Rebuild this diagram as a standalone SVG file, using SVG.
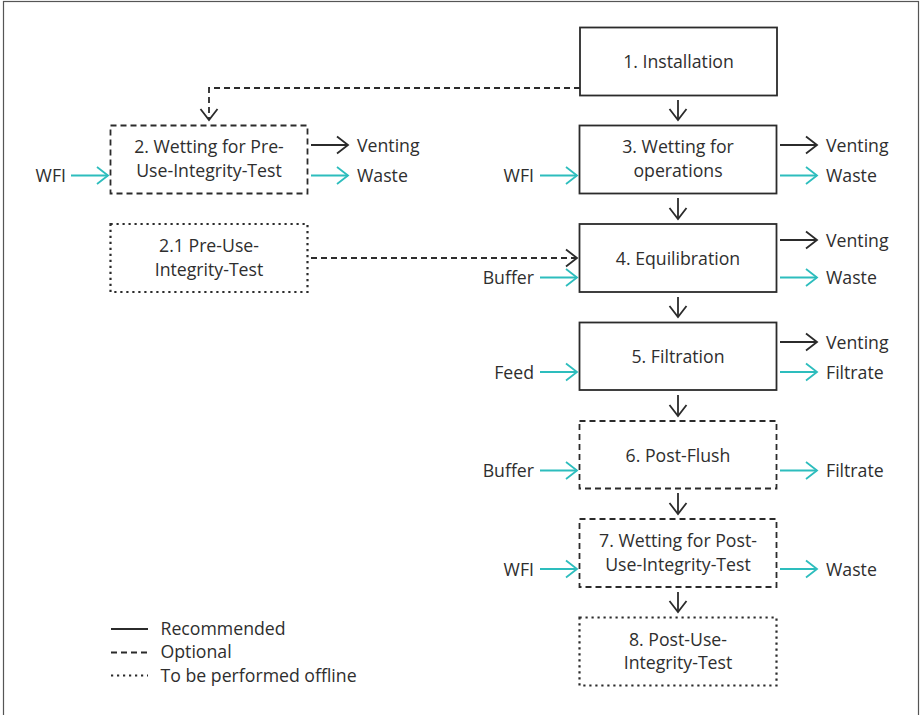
<svg xmlns="http://www.w3.org/2000/svg" width="921" height="715" viewBox="0 0 921 715">
<style>
text{font-family:"Open Sans","Liberation Sans",sans-serif;font-size:17.7px;fill:#2e2e2e}
.c{text-anchor:middle}
.box{fill:#fff;stroke:#2b2b2b;stroke-width:1.8}
.dash{stroke-dasharray:6 4}
.dot{stroke-dasharray:2.2 3.8;stroke-width:2.2}
.k{fill:none;stroke:#2b2b2b;stroke-width:1.8}
.t{fill:none;stroke:#2dbdbd;stroke-width:1.8}
</style>
<defs>
<marker id="ak" viewBox="-14 -11 16 22" markerWidth="16" markerHeight="22" refX="0" refY="0" orient="auto" markerUnits="userSpaceOnUse"><path d="M-11,-8.5 L0,0 L-11,8.5" fill="none" stroke="#2b2b2b" stroke-width="1.8"/></marker>
<marker id="at" viewBox="-14 -11 16 22" markerWidth="16" markerHeight="22" refX="0" refY="0" orient="auto" markerUnits="userSpaceOnUse"><path d="M-11,-8.5 L0,0 L-11,8.5" fill="none" stroke="#2dbdbd" stroke-width="1.8"/></marker>
</defs>
<rect x="3.5" y="1.5" width="915" height="730" fill="#fff" stroke="#555" stroke-width="1.2"/>

<g id="connectors">
<path class="k dash" d="M580,88 H209 V120" marker-end="url(#ak)"/>
<path class="k dash" d="M311,258 H577" marker-end="url(#ak)"/>
<path class="k" d="M678,100 V120" marker-end="url(#ak)"/>
<path class="k" d="M678,198 V219" marker-end="url(#ak)"/>
<path class="k" d="M678,297 V317" marker-end="url(#ak)"/>
<path class="k" d="M678,395 V416" marker-end="url(#ak)"/>
<path class="k" d="M678,493 V514" marker-end="url(#ak)"/>
<path class="k" d="M678,592 V612" marker-end="url(#ak)"/>
<path class="t" d="M71,175.5 H108" marker-end="url(#at)"/>
<path class="k" d="M311,145 H348" marker-end="url(#ak)"/>
<path class="t" d="M311,175.5 H348" marker-end="url(#at)"/>
<path class="t" d="M540,175.5 H577" marker-end="url(#at)"/>
<path class="k" d="M780,145 H817" marker-end="url(#ak)"/>
<path class="t" d="M780,175.5 H817" marker-end="url(#at)"/>
<path class="t" d="M540,277.5 H577" marker-end="url(#at)"/>
<path class="k" d="M780,240 H817" marker-end="url(#ak)"/>
<path class="t" d="M780,277.5 H817" marker-end="url(#at)"/>
<path class="t" d="M540,372 H577" marker-end="url(#at)"/>
<path class="k" d="M780,342 H817" marker-end="url(#ak)"/>
<path class="t" d="M780,372 H817" marker-end="url(#at)"/>
<path class="t" d="M540,470.5 H577" marker-end="url(#at)"/>
<path class="t" d="M780,470.5 H817" marker-end="url(#at)"/>
<path class="t" d="M540,569 H577" marker-end="url(#at)"/>
<path class="t" d="M780,569 H817" marker-end="url(#at)"/>
</g>

<g id="side-labels">
<text x="66" y="182" text-anchor="end">WFI</text>
<text x="357" y="151.5">Venting</text>
<text x="357" y="182">Waste</text>
<text x="534" y="182" text-anchor="end">WFI</text>
<text x="826" y="151.5">Venting</text>
<text x="826" y="182">Waste</text>
<text x="534" y="284" text-anchor="end">Buffer</text>
<text x="826" y="246.5">Venting</text>
<text x="826" y="284">Waste</text>
<text x="534" y="378.5" text-anchor="end">Feed</text>
<text x="826" y="348.5">Venting</text>
<text x="826" y="378.5">Filtrate</text>
<text x="534" y="477" text-anchor="end">Buffer</text>
<text x="826" y="477">Filtrate</text>
<text x="534" y="575.5" text-anchor="end">WFI</text>
<text x="826" y="575.5">Waste</text>
</g>

<g id="n1"><rect class="box" x="580" y="27.5" width="197" height="68"/><text class="c" x="678.5" y="67.5">1. Installation</text></g>
<g id="n2"><rect class="box dash" x="110.5" y="125.5" width="197" height="68"/><text class="c" x="209" y="152.5">2. Wetting for Pre-</text><text class="c" x="209" y="176.5">Use-Integrity-Test</text></g>
<g id="n2_1"><rect class="box dot" x="110.5" y="224" width="197" height="68"/><text class="c" x="209" y="251.5">2.1 Pre-Use-</text><text class="c" x="209" y="275.5">Integrity-Test</text></g>
<g id="n3"><rect class="box" x="579.5" y="125.5" width="197" height="68"/><text class="c" x="678" y="152.5">3. Wetting for</text><text class="c" x="678" y="176.5">operations</text></g>
<g id="n4"><rect class="box" x="579.5" y="224" width="197" height="68"/><text class="c" x="678" y="265">4. Equilibration</text></g>
<g id="n5"><rect class="box" x="579.5" y="322.5" width="197" height="67.5"/><text class="c" x="678" y="363">5. Filtration</text></g>
<g id="n6"><rect class="box dash" x="579.5" y="421" width="197" height="67.5"/><text class="c" x="678" y="461.5">6. Post-Flush</text></g>
<g id="n7"><rect class="box dash" x="579.5" y="519" width="197" height="68"/><text class="c" x="678" y="547">7. Wetting for Post-</text><text class="c" x="678" y="570.5">Use-Integrity-Test</text></g>
<g id="n8"><rect class="box dot" x="579.5" y="617.5" width="197" height="68"/><text class="c" x="678" y="645.5">8. Post-Use-</text><text class="c" x="678" y="669">Integrity-Test</text></g>

<g id="legend">
<line class="k" x1="111" y1="629" x2="148" y2="629"/>
<line class="k dash" x1="111" y1="652.5" x2="148" y2="652.5"/>
<line class="k dot" x1="111" y1="675.5" x2="148" y2="675.5"/>
<text x="160.5" y="634.5">Recommended</text>
<text x="160.5" y="658">Optional</text>
<text x="160.5" y="682">To be performed offline</text>
</g>
</svg>
